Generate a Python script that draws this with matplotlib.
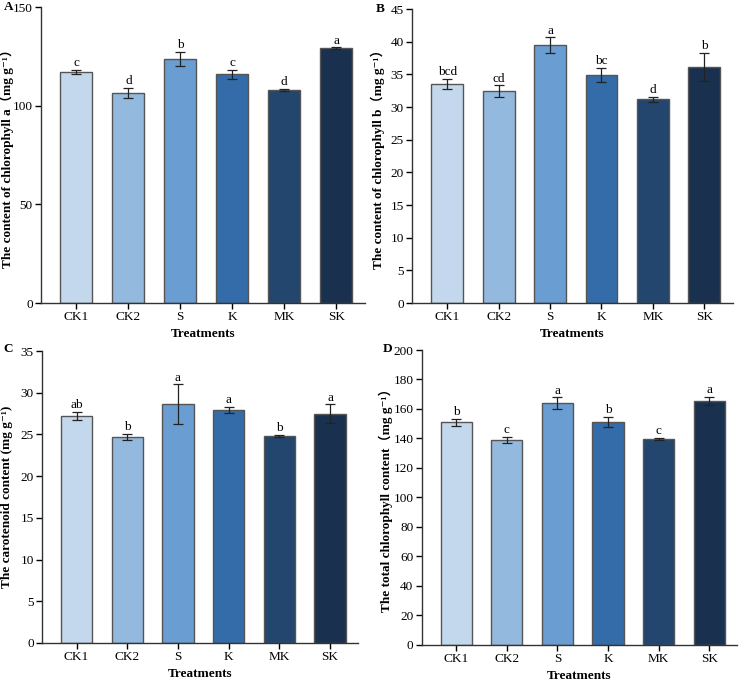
import matplotlib
matplotlib.use("Agg")
import matplotlib.pyplot as plt
import numpy as np

FAM = ['Liberation Serif', 'DejaVu Serif', 'Noto Sans CJK SC']
plt.rcParams['font.family'] = FAM

treatments = ["CK1", "CK2", "S", "K", "MK", "SK"]
colors = ["#c3d8ec", "#94b9df", "#6a9ed2", "#336ca9", "#23466f", "#19314f"]

chl_a = [117.1, 106.6, 123.8, 115.9, 108.1, 129.2]
chl_a_err = [1.2, 2.5, 3.5, 2.4, 0.5, 0.3]
chl_a_sig = ["c", "d", "b", "c", "d", "a"]

chl_b = [33.6, 32.4, 39.5, 34.9, 31.2, 36.2]
chl_b_err = [0.77, 0.9, 1.15, 1.1, 0.4, 2.15]
chl_b_sig = ["bcd", "cd", "a", "bc", "d", "b"]

car = [27.2, 24.7, 28.6, 27.9, 24.8, 27.5]
car_err = [0.5, 0.4, 2.4, 0.36, 0.1, 1.1]
car_sig = ["ab", "b", "a", "a", "b", "a"]

total = [150.9, 139.2, 163.8, 151.0, 139.7, 165.6]
total_err = [2.1, 2.0, 4.0, 3.4, 0.7, 2.7]
total_sig = ["b", "c", "a", "b", "c", "a"]

fig = plt.figure(figsize=(7.4, 6.82), dpi=100)

panels = [
    ("A", [0.0554, 0.5557, 0.4376, 0.434], chl_a, chl_a_err, chl_a_sig, (0, 150), np.arange(0, 151, 50),
     "The content of chlorophyll a（mg g⁻¹）", -0.083, (4, 7)),
    ("B", [0.557, 0.5557, 0.433, 0.431], chl_b, chl_b_err, chl_b_sig, (0, 45), np.arange(0, 46, 5),
     "The content of chlorophyll b（mg g⁻¹）", -0.084, (376, 9)),
    ("C", [0.0568, 0.0572, 0.427, 0.428], car, car_err, car_sig, (0, 35), np.arange(0, 36, 5),
     "The carotenoid content (mg g⁻¹)", -0.092, (3, 349)),
    ("D", [0.570, 0.0543, 0.426, 0.4325], total, total_err, total_sig, (0, 200), np.arange(0, 201, 20),
     "The total chlorophyll content（mg g⁻¹）", -0.092, (383, 349)),
]

for letter, rect, vals, errs, sigs, ylim, yticks, ylabel, lx, lpos in panels:
    ax = fig.add_axes(rect)
    x = np.arange(len(treatments))
    ax.bar(x, vals, width=0.62, color=colors, edgecolor="#555555", linewidth=1.0, zorder=2)
    ax.errorbar(x, vals, yerr=errs, fmt="none", ecolor="#222222", elinewidth=0.9,
                capsize=3.5, capthick=0.9, zorder=3)
    span = ylim[1] - ylim[0]
    for xi, v, e, s in zip(x, vals, errs, sigs):
        ax.text(xi, v + e + span * 0.003, s, ha="center", va="bottom", fontsize=9.5)
    ax.set_xlim(-0.68, 5.55)
    ax.set_ylim(*ylim)
    ax.set_yticks(yticks)
    ax.set_xticks(x)
    ax.set_xticklabels(treatments, fontsize=9.5)
    ax.tick_params(axis="y", labelsize=9.5, direction="out", length=4, width=1, pad=2)
    ax.tick_params(axis="x", direction="out", length=4, width=1, pad=2)
    for sp in ["top", "right"]:
        ax.spines[sp].set_visible(False)
    for sp in ["left", "bottom"]:
        ax.spines[sp].set_linewidth(1.0)
        ax.spines[sp].set_color("#333333")
    ax.set_xlabel("Treatments", fontsize=9.5, fontweight="bold")
    ax.xaxis.set_label_coords(0.5, -0.085)
    ax.set_ylabel(ylabel, fontsize=9.5, fontweight="bold")
    ax.yaxis.set_label_coords(lx, 0.5)
    fig.text(lpos[0] / 740, 1 - lpos[1] / 682, letter, fontsize=9.5, fontweight="bold",
             ha="left", va="center")

fig.savefig("out.png", dpi=100)
